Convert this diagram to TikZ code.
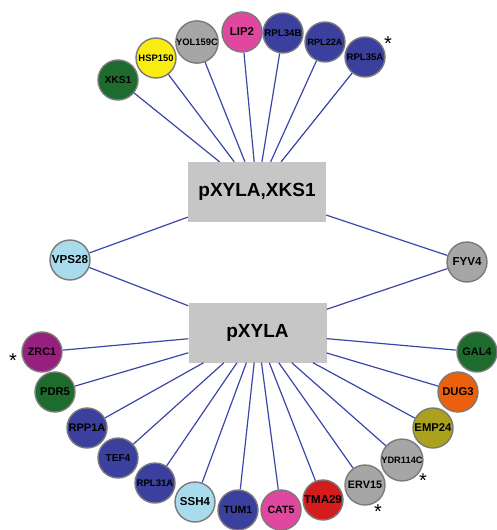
\documentclass[tikz,border=0pt]{standalone}
\usepackage{fontspec}
\setmainfont{Liberation Sans}
\definecolor{cgreen}{HTML}{1E6B2E}
\definecolor{cblue}{HTML}{3B3F9E}
\definecolor{cpink}{HTML}{E0479E}
\definecolor{clight}{HTML}{A8DCEC}
\definecolor{cgray}{HTML}{A6A6A6}
\definecolor{cyellow}{HTML}{F8EC10}
\definecolor{cpurple}{HTML}{97207F}
\definecolor{corange}{HTML}{EB5F0D}
\definecolor{colive}{HTML}{AAA21C}
\definecolor{cred}{HTML}{D41C1C}
\definecolor{ringgray}{HTML}{7A7A7A}
\definecolor{linkblue}{HTML}{3A46A8}
\definecolor{boxgray}{HTML}{C6C6C6}
\tikzset{
  gene/.style={circle, draw=ringgray, line width=1.4pt, fill=#1, minimum size=40pt, inner sep=0pt},
  fs/.style={font=\fontsize{#1}{#1}\selectfont\bfseries},
  hub/.style={rectangle, fill=boxgray, minimum width=138pt, minimum height=60pt, inner sep=0pt, font=\fontsize{19}{19}\selectfont\bfseries},
  link/.style={draw=linkblue, line width=1.2pt},
  star/.style={font=\fontsize{20}{20}\selectfont, inner sep=0pt}
}
\begin{document}
\begin{tikzpicture}[x=1pt,y=-1pt]
\useasboundingbox (0,0) rectangle (496,530);
% hubs
\node[hub] (top) at (257,192) {pXYLA,XKS1};
\node[hub] (bot) at (257.5,332.5) {pXYLA};
% top genes
\node[gene=cgreen, fs=10.2] (xks1) at (118,80) {XKS1};
\node[gene=cyellow, fs=9.4] (hsp150) at (156,58) {HSP150};
\node[gene=cgray, fs=9.4] (yol159c) at (197,42) {YOL159C};
\node[gene=cpink, fs=11.4] (lip2) at (242,32) {LIP2};
\node[gene=cblue, fs=9.7] (rpl34b) at (283,33) {RPL34B};
\node[gene=cblue, fs=9.1] (rpl22a) at (325,42) {RPL22A};
\node[gene=cblue, fs=9.6] (rpl35a) at (365,57) {RPL35A};
% shared
\node[gene=clight, fs=11.6] (vps28) at (70,260) {VPS28};
\node[gene=cgray, fs=11.6] (fyv4) at (467,262) {FYV4};
% bottom genes
\node[gene=cpurple, fs=10.8] (zrc1) at (42,352) {ZRC1};
\node[gene=cgreen, fs=11.2] (pdr5) at (55,392) {PDR5};
\node[gene=cblue, fs=11] (rpp1a) at (87,428) {RPP1A};
\node[gene=cblue, fs=10.1] (tef4) at (118,458) {TEF4};
\node[gene=cblue, fs=9.6] (rpl31a) at (155,483) {RPL31A};
\node[gene=clight, fs=11.5] (ssh4) at (195,502) {SSH4};
\node[gene=cblue, fs=10.5] (tum1) at (238,510) {TUM1};
\node[gene=cpink, fs=10.6] (cat5) at (281,510) {CAT5};
\node[gene=cred, fs=11.5] (tma29) at (323,500) {TMA29};
\node[gene=cgray, fs=10.8] (erv15) at (365,485) {ERV15};
\node[gene=cgray, fs=9.3] (ydr114c) at (402,460) {YDR114C};
\node[gene=colive, fs=11.3] (emp24) at (433,428) {EMP24};
\node[gene=corange, fs=11.3] (dug3) at (458,392) {DUG3};
\node[gene=cgreen, fs=10.9] (gal4) at (477,352) {GAL4};
% links
\foreach \g in {xks1,hsp150,yol159c,lip2,rpl34b,rpl22a,rpl35a,vps28,fyv4}
  \draw[link] (\g) -- (top);
\foreach \g in {vps28,fyv4,zrc1,pdr5,rpp1a,tef4,rpl31a,ssh4,tum1,cat5,tma29,erv15,ydr114c,emp24,dug3,gal4}
  \draw[link] (\g) -- (bot);
% asterisks
\node[star] (s1) at (388,44) {*};
\node[star] (s2) at (13,361) {*};
\node[star] (s3) at (423,481) {*};
\node[star] (s4) at (378,512) {*};
\end{tikzpicture}
\end{document}
